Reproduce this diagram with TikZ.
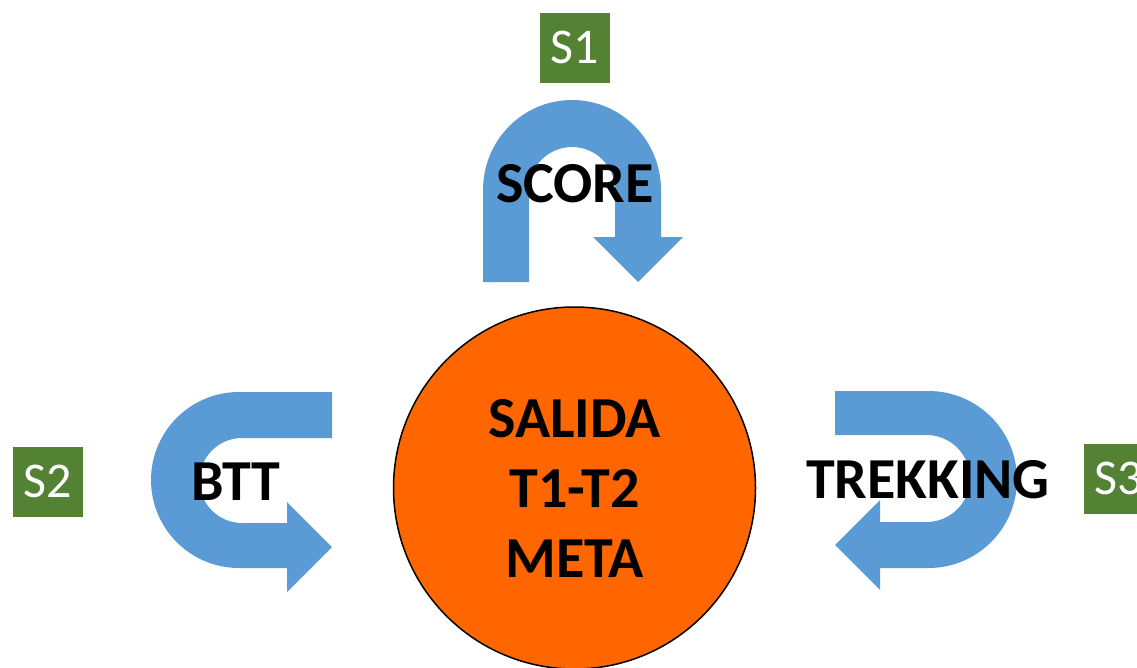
\documentclass[tikz,border=0pt]{standalone}
\usepackage{fontspec}
\setmainfont{Carlito}
\definecolor{arrowblue}{HTML}{5B9BD5}
\definecolor{sgreen}{HTML}{548235}
\definecolor{corange}{HTML}{FF6600}
\begin{document}
\begin{tikzpicture}[x=1pt,y=-1pt,
  uarrow/.style={fill=arrowblue, draw=none},
  slabel/.style={fill=sgreen, text=white, minimum width=70pt, minimum height=70pt, inner sep=0pt,
    font=\fontsize{50}{60}\selectfont},
  biglabel/.style={font=\fontsize{58}{70}\bfseries\selectfont, text=black, inner sep=0pt},
  hub/.style={circle, fill=corange, draw=black, line width=1.5pt, minimum size=362pt, inner sep=0pt,
    align=center, font=\fontsize{58}{70}\bfseries\selectfont}]
\useasboundingbox (0,0) rectangle (1137,667);
\clip (0,0) rectangle (1137,667);

% top U-turn arrow
\fill[uarrow] (483,282) -- (483,190) arc[start angle=180, end angle=360, x radius=89, y radius=90]
  -- (661,237) -- (683,237) -- (638,282) -- (593,237) -- (615,237) -- (615,190)
  arc[start angle=360, end angle=180, radius=43] -- (529,282) -- cycle;

% left U-turn arrow
\fill[uarrow] (332,392) -- (239,392) arc[start angle=270, end angle=90, radius=88]
  -- (287,568) -- (287,592) -- (332,547) -- (287,502) -- (287,523) -- (242,523)
  arc[start angle=90, end angle=270, radius=42.5] -- (332,438) -- cycle;

% right U-turn arrow
\fill[uarrow] (835,391) -- (928.5,391) arc[start angle=270, end angle=450, radius=88.5]
  -- (880,568) -- (880,590) -- (835,545) -- (880,500) -- (880,522) -- (926.5,522)
  arc[start angle=90, end angle=-90, radius=43.5] -- (835,435) -- cycle;

% centre circle
\node[hub] (hub) at (574.5,488) {SALIDA\\T1-T2\\META};

% labels
\node[biglabel, anchor=base] (score) at (575,202) {SCORE};
\node[biglabel, anchor=base] (btt) at (236,500) {BTT};
\node[biglabel, anchor=base] (trek) at (928,498) {TREKKING};

\node[slabel] (s1) at (574.5,47.5) {S1};
\node[slabel] (s2) at (48,481.5) {S2};
\node[slabel] (s3) at (1119,478.5) {S3};
\end{tikzpicture}
\end{document}
